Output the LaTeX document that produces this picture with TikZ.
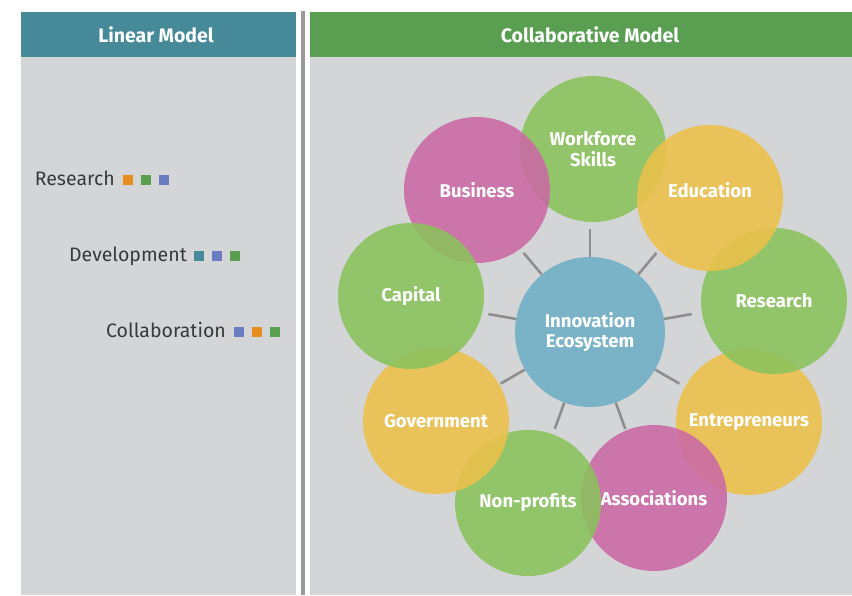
\documentclass[tikz,border=0pt]{standalone}
\usepackage{fontspec}
\setmainfont{Fira Sans}
\usetikzlibrary{calc}
\definecolor{headteal}{HTML}{468A9A}
\definecolor{headgreen}{HTML}{5A9E52}
\definecolor{panelgray}{HTML}{D4D5D7}
\definecolor{bargray}{HTML}{9A9A9C}
\definecolor{spokegray}{HTML}{8E8E8E}
\definecolor{txtgray}{HTML}{3A3A3A}
\definecolor{cgreen}{HTML}{8AC25C}
\definecolor{cpink}{HTML}{CB68A5}
\definecolor{cyellow}{HTML}{EDC149}
\definecolor{cblue}{HTML}{7AB3C8}
\definecolor{sqorange}{HTML}{E88E1E}
\definecolor{sqgreen}{HTML}{58A04F}
\definecolor{sqblue}{HTML}{6A7DC0}
\begin{document}
\begin{tikzpicture}[x=1pt,y=-1pt,
  bubble/.style={circle,minimum size=146pt,inner sep=0pt,fill opacity=.88,text opacity=1,
    text=white,align=center,font=\fontsize{18.5}{20.5}\selectfont\bfseries},
  spoke/.style={line width=2.6pt,color=spokegray},
  headtxt/.style={text=white,font=\fontsize{19.5}{22}\selectfont\bfseries},
  lintxt/.style={text=txtgray,inner sep=0pt,anchor=base east,font=\fontsize{19.5}{22}\selectfont}]
\useasboundingbox (0,0) rectangle (852,595);
% panels
\fill[panelgray] (21,57) rectangle (296,595);
\fill[panelgray] (310,57) rectangle (852,595);
\fill[headteal] (21,12) rectangle (296,57);
\fill[headgreen] (310,12) rectangle (852,57);
\fill[bargray] (301,11) rectangle (305,595);
\node[headtxt] (linhead) at (156,35) {Linear Model};
\node[headtxt] (colhead) at (590,35) {Collaborative Model};
% linear model
\node[lintxt] (res) at (115,185) {Research};
\node[lintxt] (dev) at (187,261) {Development};
\node[lintxt] (col) at (226,337) {Collaboration};
\foreach \c [count=\i from 0] in {sqorange,sqgreen,sqblue}\fill[\c] ([xshift=8+18*\i]res.base east) rectangle ++(10,-10);
\foreach \c [count=\i from 0] in {headteal,sqblue,sqgreen}\fill[\c] ([xshift=7+18*\i]dev.base east) rectangle ++(10,-10);
\foreach \c [count=\i from 0] in {sqblue,sqorange,sqgreen}\fill[\c] ([xshift=8+18*\i]col.base east) rectangle ++(10,-10);
% collaborative model
\node[bubble,fill=cyellow] (ent) at (749,422) {Entrepreneurs};
\node[bubble,fill=cgreen] (rsr) at (774,301) {Research};
\node[bubble,fill=cgreen] (work) at (593,149) {Workforce\\Skills};
\node[bubble,fill=cyellow] (edu) at (710,198) {\raisebox{16pt}{Education}};
\node[bubble,fill=cpink] (bus) at (477,190) {Business};
\node[bubble,fill=cpink] (asso) at (654,498) {Associations};
\node[bubble,fill=cgreen] (nonp) at (528,503) {Non-profits};
\node[bubble,fill=cyellow] (gov) at (436,421) {Government};
\node[bubble,fill=cgreen] (cap) at (411,296) {Capital};
\node[bubble,fill=cblue,minimum size=150pt,fill opacity=1] (eco) at (590,332) {Innovation\\Ecosystem};
\foreach \a in {90,50,10,-30,-70,-110,-150,170,130}\draw[spoke] (eco.\a) -- ++(-\a:28);
\end{tikzpicture}
\end{document}
